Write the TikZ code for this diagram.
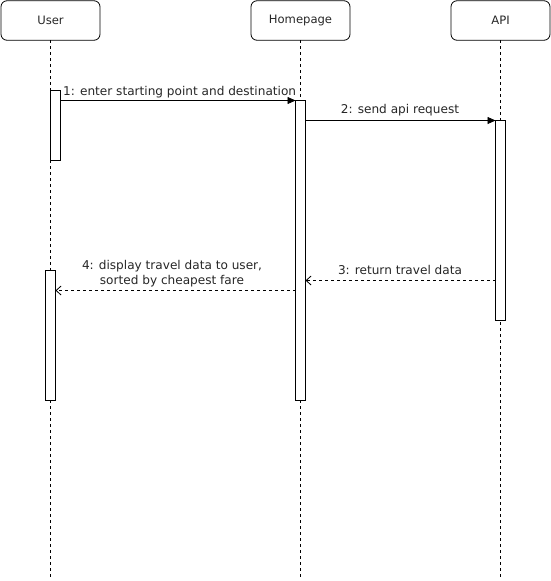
\documentclass[tikz,border=0pt]{standalone}
\usepackage{fontspec}
\setmainfont{DejaVu Sans}
\usetikzlibrary{arrows.meta,calc}
\definecolor{txt}{HTML}{262626}
\begin{document}
\begin{tikzpicture}[x=1pt,y=-1pt,
  head/.style={draw=black,line width=0.8pt,rounded corners=6pt,minimum width=99pt,minimum height=39.5pt,inner sep=0pt,outer sep=0pt,font=\fontsize{11.6}{14}\selectfont,text=txt},
  lifeline/.style={draw=black,line width=0.8pt,dash pattern=on 3pt off 3pt},
  act/.style={draw=black,fill=white,line width=0.8pt,minimum width=10pt,inner sep=0pt,outer sep=0pt,anchor=north west},
  lbl/.style={font=\fontsize{12.1}{15}\selectfont,text=txt,inner sep=0pt},
  call/.style={draw=black,line width=0.8pt,-{Triangle[length=8pt,width=7pt]}},
  reply/.style={draw=black,line width=0.8pt,dash pattern=on 3pt off 3pt,-{Straight Barb[length=5pt,width=9pt]}}]
\useasboundingbox (0,0) rectangle (551,581);
% heads
\node[head] (user) at (50.5,20.5) {User};
\node[head] (home) at (300.5,20.5) {Homepage};
\node[head] (api) at (500.5,20.5) {API};
% lifeline ends
\coordinate (ue) at (50.5,580);
\coordinate (he) at (300.5,580);
\coordinate (ae) at (500.5,580);
\draw[lifeline] (user) -- (ue);
\draw[lifeline] (home) -- (he);
\draw[lifeline] (api) -- (ae);
% activations
\node[act,minimum height=70pt] (ua1) at (50.5,90.5) {};
\node[act,minimum height=300pt] (ha) at (295.5,100.5) {};
\node[act,minimum height=200pt] (aa) at (495.5,120.5) {};
\node[act,minimum height=130pt] (ua2) at (45.5,270.5) {};
% message levels
\coordinate (m1) at (0,100.5);
\coordinate (m2) at (0,120.5);
\coordinate (m3) at (0,280.5);
\coordinate (m4) at (0,290.5);
% messages
\draw[call] (ua1.east |- m1) -- (ha.west |- m1);
\draw[call] (ha.east |- m2) -- (aa.west |- m2);
\draw[reply] (aa.west |- m3) -- (ha.east |- m3);
\draw[reply] (ha.west |- m4) -- (ua2.east |- m4);
% labels
\node[lbl,anchor=west] (l1) at (63,92) {1: enter starting point and destination};
\node[lbl] (l2) at (400,110.5) {2: send api request};
\node[lbl] (l3) at (400,270) {3: return travel data};
\node[lbl,align=center] (l4) at (172,273.5) {4: display travel data to user,\\sorted by cheapest fare};
\end{tikzpicture}
\end{document}
